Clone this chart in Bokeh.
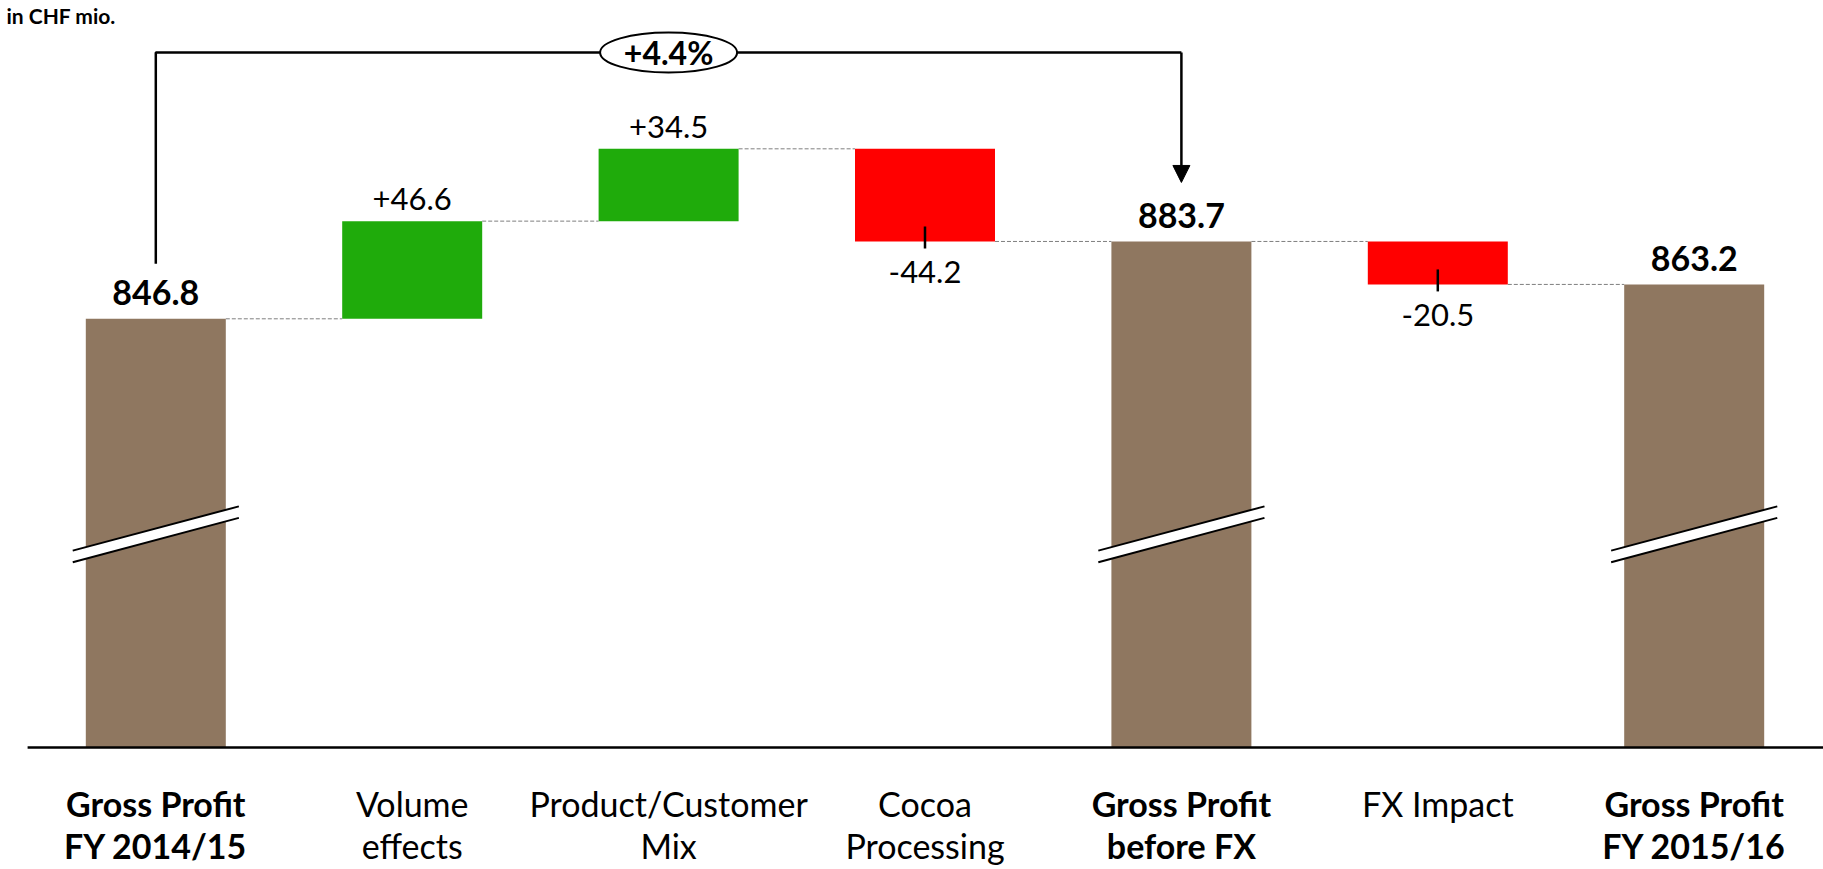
from bokeh.plotting import figure
from bokeh.models import Range1d, ColumnDataSource, Arrow, NormalHead
from bokeh.core.properties import value
from bokeh.embed import file_html
from bokeh.resources import INLINE

# ---------------- data ----------------
categories = ["Gross Profit\nFY 2014/15", "Volume\neffects", "Product/Customer\nMix",
              "Cocoa\nProcessing", "Gross Profit\nbefore FX", "FX Impact",
              "Gross Profit\nFY 2015/16"]
values = [846.8, 46.6, 34.5, -44.2, 883.7, -20.5, 863.2]
kinds = ["total", "delta", "delta", "delta", "total", "delta", "total"]
change_label = "+4.4%"
change_from = 0
change_to = 4
unit_label = "in CHF mio."

# ---------------- styling / layout constants ----------------
FONT = "Lato"
BROWN = "#8f7760"
GREEN = "#1fab0b"
RED = "#ff0000"
W, H = 1823, 869
PXU_X = 256.4                      # screen px per category
X0 = -155.3 / PXU_X
X1 = X0 + W / PXU_X
PXU_Y = 2.096                      # screen px per CHF mio.
Y1 = 846.8 + 318.3 / PXU_Y
Y0 = Y1 - H / PXU_Y
U = 1 / PXU_Y                      # data units per screen pixel
AXIS_BASE = Y1 - 747 * U           # visual (broken) baseline
BAR_W = 0.546
BREAK_LEVEL = 744.0
SHIFT = 0.36                       # baseline correction (em)

VAL_FS, TOT_FS, CAT_FS, CHG_FS, UNIT_FS = 31, 34, 34, 32, 21


def base(y, fs):
    """data y such that the alphabetic baseline lands at y"""
    return y + SHIFT * fs * U


# ---------------- waterfall geometry ----------------
bottoms, tops, levels = [], [], []
running = 0.0
for v, k in zip(values, kinds):
    if k == "total":
        running = v
        bottoms.append(AXIS_BASE)
        tops.append(v)
    else:
        prev = running
        running = prev + v
        bottoms.append(min(prev, running))
        tops.append(max(prev, running))
    levels.append(running)

colors = [BROWN if k == "total" else (GREEN if v >= 0 else RED) for v, k in zip(values, kinds)]
xs = list(range(len(categories)))

p = figure(width=W, height=H, x_range=Range1d(X0, X1), y_range=Range1d(Y0, Y1),
           x_axis_type=None, y_axis_type=None, toolbar_location=None,
           output_backend="svg", min_border=0)
p.outline_line_color = None
p.grid.visible = False
p.background_fill_color = "white"

src = ColumnDataSource(dict(x=xs, bottom=bottoms, top=tops, color=colors))
p.vbar(x="x", bottom="bottom", top="top", width=BAR_W, fill_color="color",
       line_color=None, source=src)

# axis baseline
p.segment(x0=[-0.5], y0=[AXIS_BASE], x1=[X1], y1=[AXIS_BASE], line_color="black", line_width=2.5)

# connectors
cx0, cx1, cy = [], [], []
for i in range(len(xs) - 1):
    cx0.append(xs[i] + BAR_W / 2)
    cx1.append(xs[i + 1] - BAR_W / 2)
    cy.append(levels[i])
p.segment(x0=cx0, y0=cy, x1=cx1, y1=cy, line_color="#7f7f7f", line_width=1, line_dash="4 2")

# break marks on total bars
half = 0.324
rise = 22.15 * U
gap = 2.75
bx_poly, by_poly, lx, ly = [], [], [], []
for i, k in enumerate(kinds):
    if k != "total":
        continue
    c = xs[i]
    up, lo = BREAK_LEVEL + gap, BREAK_LEVEL - gap
    bx_poly.append([c - half, c + half, c + half, c - half])
    by_poly.append([up - rise, up + rise, lo + rise, lo - rise])
    lx += [[c - half, c + half], [c - half, c + half]]
    ly += [[up - rise, up + rise], [lo - rise, lo + rise]]
p.patches(bx_poly, by_poly, fill_color="white", line_color=None)
p.multi_line(lx, ly, line_color="black", line_width=2)

# value labels
tot_x, tot_y, tot_t = [], [], []
pos_x, pos_y, pos_t = [], [], []
neg_x, neg_y, neg_t = [], [], []
tick_x, tick_y0, tick_y1 = [], [], []
for i, (v, k) in enumerate(zip(values, kinds)):
    if k == "total":
        tot_x.append(xs[i]); tot_y.append(base(tops[i] + 14 * U, TOT_FS)); tot_t.append(f"{v:.1f}")
    elif v >= 0:
        pos_x.append(xs[i]); pos_y.append(base(tops[i] + 11 * U, VAL_FS)); pos_t.append(f"+{v:.1f}")
    else:
        neg_x.append(xs[i]); neg_y.append(base(bottoms[i] - 41.5 * U, VAL_FS)); neg_t.append(f"{v:.1f}")
        tick_x.append(xs[i]); tick_y0.append(bottoms[i] + 15 * U); tick_y1.append(bottoms[i] - 7 * U)

p.text(tot_x, tot_y, text=tot_t, text_font=value(FONT), text_font_style="bold",
       text_font_size=f"{TOT_FS}px", text_align="center", text_baseline="alphabetic", text_color="black")
p.text(pos_x, pos_y, text=pos_t, text_font=value(FONT), text_font_size=f"{VAL_FS}px",
       text_align="center", text_baseline="alphabetic", text_color="black")
p.text(neg_x, neg_y, text=neg_t, text_font=value(FONT), text_font_size=f"{VAL_FS}px",
       text_align="center", text_baseline="alphabetic", text_color="black")
p.segment(x0=tick_x, y0=tick_y0, x1=tick_x, y1=tick_y1, line_color="black", line_width=2.5)

# category labels (two lines)
for bold in (True, False):
    l1x, l1y, l1t, l2x, l2y, l2t = [], [], [], [], [], []
    for i, (cat, k) in enumerate(zip(categories, kinds)):
        if (k == "total") != bold:
            continue
        parts = cat.split("\n")
        l1x.append(xs[i]); l1y.append(base(AXIS_BASE - 68 * U, CAT_FS)); l1t.append(parts[0])
        if len(parts) > 1:
            l2x.append(xs[i]); l2y.append(base(AXIS_BASE - 110 * U, CAT_FS)); l2t.append(parts[1])
    style = "bold" if bold else "normal"
    for tx, ty, tt in ((l1x, l1y, l1t), (l2x, l2y, l2t)):
        p.text(tx, ty, text=tt, text_font=value(FONT), text_font_style=style,
               text_font_size=f"{CAT_FS}px", text_align="center", text_baseline="alphabetic",
               text_color="black")

# unit label
p.text([X0 + 6 / PXU_X], [base(Y1 - 23 * U, UNIT_FS)], text=[unit_label], text_font=value(FONT),
       text_font_style="bold", text_font_size=f"{UNIT_FS}px", text_align="left",
       text_baseline="alphabetic", text_color="black")

# change bracket
bracket_y = Y1 - 52 * U
p.line([xs[change_from], xs[change_from], xs[change_to]],
       [tops[change_from] + 55 * U, bracket_y, bracket_y], line_color="black", line_width=2.5)
p.add_layout(Arrow(end=NormalHead(size=17, fill_color="black", line_color="black"),
                   x_start=xs[change_to], y_start=bracket_y,
                   x_end=xs[change_to], y_end=tops[change_to] + 59 * U,
                   line_color="black", line_width=2.5))
mid = (xs[change_from] + xs[change_to]) / 2
p.ellipse([mid], [bracket_y], width=137, height=40, width_units="screen", height_units="screen",
          fill_color="white", line_color="black", line_width=2)
p.text([mid], [bracket_y], text=[change_label], text_font=value(FONT), text_font_style="bold",
       text_font_size=f"{CHG_FS}px", text_align="center", text_baseline="middle", text_color="black")

open("out.html", "w").write(file_html(p, INLINE))
